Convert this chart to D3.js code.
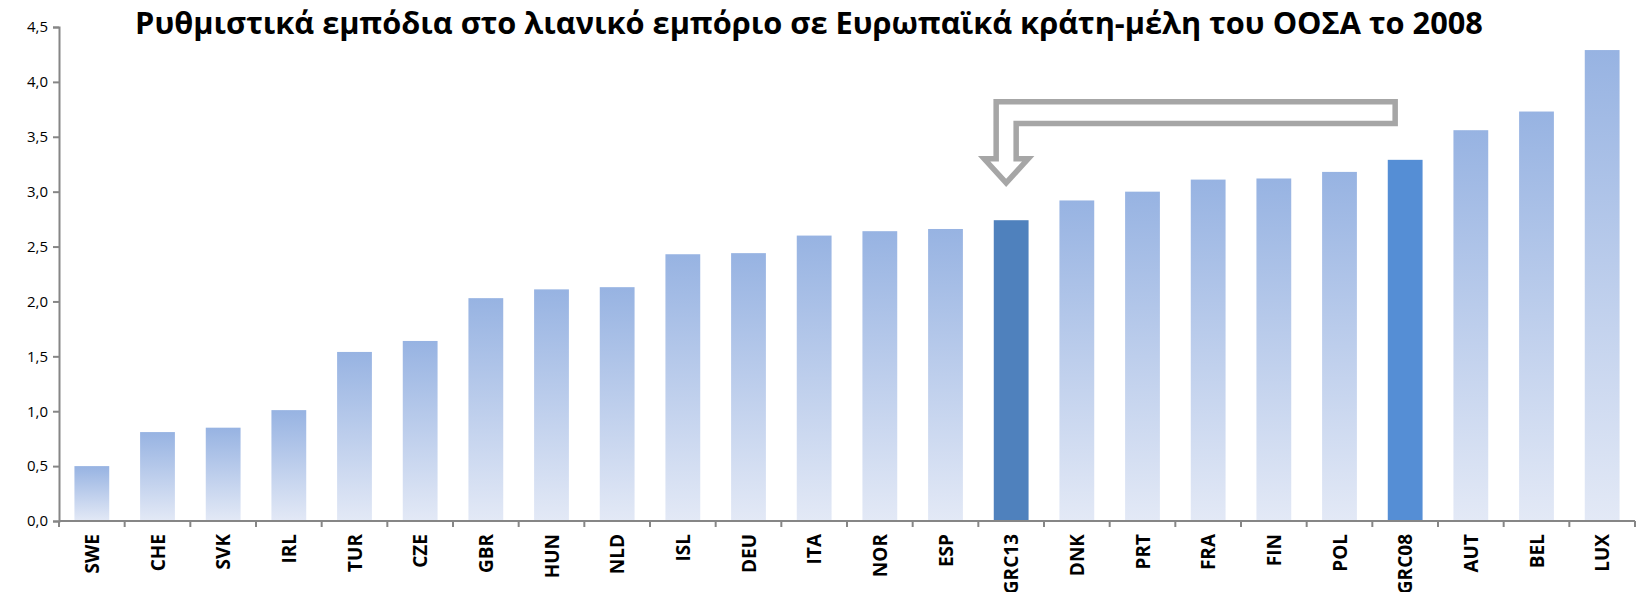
<!DOCTYPE html>
<html>
<head>
<meta charset="utf-8">
<script src="https://cdn.jsdelivr.net/npm/d3@7"></script>
<style>
  body { margin: 0; background: #fff; }
  svg { display: block; font-family: "Open Sans", sans-serif; }
</style>
</head>
<body>
<div id="chart"></div>
<script>
// data
var titleText = "Ρυθμιστικά εμπόδια στο λιανικό εμπόριο σε Ευρωπαϊκά κράτη-μέλη του ΟΟΣΑ το 2008";
var countries = ["SWE","CHE","SVK","IRL","TUR","CZE","GBR","HUN","NLD","ISL","DEU","ITA",
                 "NOR","ESP","GRC13","DNK","PRT","FRA","FIN","POL","GRC08","AUT","BEL","LUX"];
var scores = [0.50, 0.81, 0.85, 1.01, 1.54, 1.64, 2.03, 2.11, 2.13, 2.43, 2.44, 2.60,
              2.64, 2.66, 2.74, 2.92, 3.00, 3.11, 3.12, 3.18, 3.29, 3.56, 3.73, 4.29];
var yTicks = [0, 0.5, 1, 1.5, 2, 2.5, 3, 3.5, 4, 4.5];

var W = 1642, H = 592;
var margin = {top: 27, right: 7, bottom: 71, left: 59};
var width = W - margin.left - margin.right,
    height = H - margin.top - margin.bottom;

var svg = d3.select("#chart").append("svg")
  .attr("width", W)
  .attr("height", H);

// gradient for the normal bars
var defs = svg.append("defs");
var grad = defs.append("linearGradient")
  .attr("id", "barGrad")
  .attr("x1", 0).attr("y1", 0).attr("x2", 0).attr("y2", 1);
grad.append("stop").attr("offset", "0%").attr("stop-color", "#97b3e2");
grad.append("stop").attr("offset", "100%").attr("stop-color", "#e3e9f6");

var g = svg.append("g")
  .attr("transform", `translate(${margin.left}, ${margin.top})`);

var x = d3.scaleBand()
  .domain(countries)
  .range([0, width])
  .paddingInner(0.47)
  .paddingOuter(0.235);

var y = d3.scaleLinear()
  .domain([0, 4.5])
  .range([height, 0]);

function barFill(d) {
  if (d == "GRC13") return "#4f81bd";
  if (d == "GRC08") return "#558ed5";
  return "url(#barGrad)";
}

// bars
g.selectAll(".bar")
  .data(countries)
  .enter()
  .append("rect")
    .attr("class", "bar")
    .attr("x", d => x(d))
    .attr("width", x.bandwidth())
    .attr("y", (d, i) => y(scores[i]))
    .attr("height", (d, i) => height - y(scores[i]))
    .attr("fill", barFill);

// y axis
var yAxis = g.append("g")
  .call(d3.axisLeft(y)
    .tickValues(yTicks)
    .tickSize(6)
    .tickPadding(5)
    .tickFormat(d => d3.format(".1f")(d).replace(".", ",")))
  .attr("font-family", "Open Sans, sans-serif")
  .attr("font-size", 15);
yAxis.selectAll("text").attr("fill", "#000");
yAxis.select(".domain").attr("stroke", "#868686").attr("stroke-width", 2);
yAxis.selectAll(".tick line").attr("stroke", "#868686").attr("stroke-width", 2);

// x axis with ticks on band edges
var xAxis = g.append("g")
  .attr("transform", `translate(0, ${height})`);
xAxis.append("line")
  .attr("x1", 0).attr("x2", width)
  .attr("stroke", "#868686").attr("stroke-width", 2);
var step = x.step();
xAxis.selectAll(".xt")
  .data(d3.range(countries.length + 1))
  .enter()
  .append("line")
    .attr("x1", i => i * step).attr("x2", i => i * step)
    .attr("y1", 0).attr("y2", 6)
    .attr("stroke", "#868686").attr("stroke-width", 2);
xAxis.selectAll(".xl")
  .data(countries)
  .enter()
  .append("text")
    .attr("transform", d => `translate(${x(d) + x.bandwidth() / 2 + 7}, 13) rotate(-90)`)
    .attr("text-anchor", "end")
    .style("font-size", "19px")
    .style("font-weight", "bold")
    .text(d => d);

// arrow from GRC08 back to GRC13
var cx13 = x("GRC13") + x.bandwidth() / 2,
    cx08 = x("GRC08") + x.bandwidth() / 2;
var aTop = y(3.82), aBand = y(3.62), aHead = y(3.30), aTip = y(3.08);
var arrow = d3.path();
arrow.moveTo(cx13 - 15, aTop);
arrow.lineTo(cx08 - 10, aTop);
arrow.lineTo(cx08 - 10, aBand);
arrow.lineTo(cx13 + 5, aBand);
arrow.lineTo(cx13 + 5, aHead);
arrow.lineTo(cx13 + 17, aHead);
arrow.lineTo(cx13 - 5, aTip);
arrow.lineTo(cx13 - 27, aHead);
arrow.lineTo(cx13 - 15, aHead);
arrow.closePath();
g.append("path")
  .attr("d", arrow.toString())
  .attr("fill", "#fff")
  .attr("stroke", "#a6a6a6")
  .attr("stroke-width", 5.5);

// title
var title = svg.append("text")
  .attr("x", 809)
  .attr("y", 34)
  .attr("text-anchor", "middle")
  .style("font-size", "26px")
  .style("font-weight", "bold")
  .text(titleText);
var tl = title.node().getComputedTextLength();
title.style("font-size", (26 * 1348 / tl).toFixed(2) + "px");
</script>
</body>
</html>
